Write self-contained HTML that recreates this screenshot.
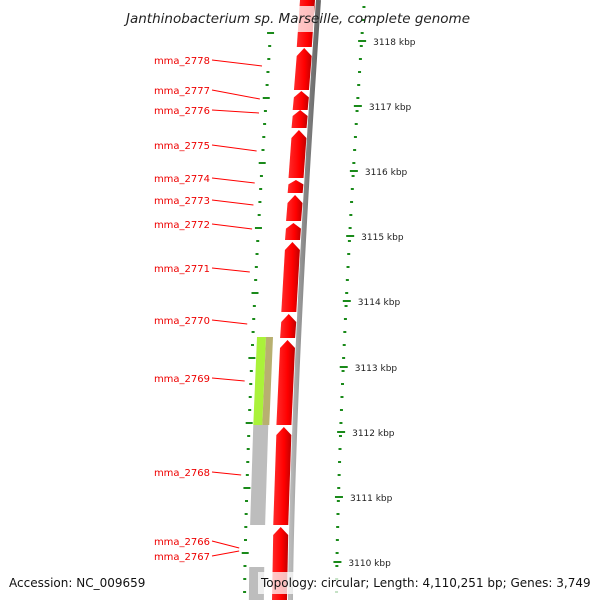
<!DOCTYPE html>
<html><head><meta charset="utf-8"><style>
html,body{margin:0;padding:0;background:#fff;}
svg{display:block;font-family:"DejaVu Sans","Liberation Sans",sans-serif;}
</style></head><body>
<svg id="map" width="600" height="600" viewBox="0 0 600 600">
<defs>
<linearGradient id="rg" x1="0" x2="1"><stop offset="0" stop-color="#ff2a2a"/><stop offset="0.6" stop-color="#ff0000"/><stop offset="1" stop-color="#c00000"/></linearGradient>
<linearGradient id="gg" x1="0" x2="1"><stop offset="0" stop-color="#bbb"/><stop offset="0.5" stop-color="#888"/><stop offset="1" stop-color="#666"/></linearGradient>
</defs>
<g id="ticks"></g>
<g id="blocks"></g>
<g id="genes"></g>
<g id="labels"></g>
<rect x="204" y="6" width="110" height="26" fill="#fff" opacity="0.75"/>
<text x="298" y="23" text-anchor="middle" font-size="13.5" font-style="italic" fill="#222">Janthinobacterium sp. Marseille, complete genome</text>
<text x="9" y="587" font-size="12" fill="#111">Accession: NC_009659</text>
<rect x="258" y="572" width="334" height="22" fill="#fff" opacity="0.75"/>
<text x="261" y="587" font-size="12" fill="#111">Topology: circular; Length: 4,110,251 bp; Genes: 3,749</text>
</svg>
<script>
var geneStarts=[0,48,91,110,130,180,195,223,242,314,340,427,527];
var geneEnds=[47,90,110,128,178,193,221,240,312,338,425,525,600];
var geneArrow=[0,1,1,1,1,1,1,1,1,1,1,1,1];
var labelNames=["mma_2778","mma_2777","mma_2776","mma_2775","mma_2774","mma_2773","mma_2772","mma_2771","mma_2770","mma_2769","mma_2768","mma_2766","mma_2767"];
var labelY=[60,90,110,145,178,200,224,268,320,378,472,541,556];
var labelTargetY=[66,99,113,151,183,205,229,272,324,381,475,548,551];
var kbpLabels=["3118 kbp","3117 kbp","3116 kbp","3115 kbp","3114 kbp","3113 kbp","3112 kbp","3111 kbp","3110 kbp"];
var kbpY=[42,107,172,237,302,368,433,498,563];
var blockStarts=[337,425,567];
var blockEnds=[425,525,600];
var blockType=["green","gray","gray"];
var NS="http://www.w3.org/2000/svg";
function curve(y){return 28*(1-Math.pow(1-Math.min(y,600)/600,1.5));}
function el(t,a,p){var e=document.createElementNS(NS,t);for(var k in a)e.setAttribute(k,a[k]);p.appendChild(e);return e;}
var G=document.getElementById('genes'),L=document.getElementById('labels'),T=document.getElementById('ticks'),B=document.getElementById('blocks');
// backbone gray line
var d="";for(var y=0;y<=600;y+=10){d+=(y?"L":"M")+(318-curve(y)+0.5)+" "+y;}
var bb=el('path',{d:d,stroke:'url(#gg)','stroke-width':5,fill:'none'},G);


// genes
for(var i=0;i<geneStarts.length;i++){
 var y0=geneStarts[i],y1=geneEnds[i];
 var xl0=300-curve(y0),xl1=300-curve(y1),w=15,ah=geneArrow[i]?Math.min(8,(y1-y0)/3):0;
 var pd="M"+xl1+" "+y1+" L"+xl0+" "+(y0+ah)+" L"+(xl0+w/2)+" "+y0+" L"+(xl0+w)+" "+(y0+ah)+" L"+(xl1+w)+" "+y1+" Z";
 var g=el('path',{d:pd,fill:'url(#rg)'},G);
 
 
}
// blast blocks
for(var j=0;j<blockStarts.length;j++){
 var a=blockStarts[j],b=blockEnds[j],xa=257-curve(a)+curve(337),xb=257-curve(b)+curve(337);
 if(blockType[j]=="green"){
  var p1=el('path',{d:"M"+xa+" "+a+"L"+(xa+9)+" "+a+"L"+(xb+9)+" "+b+"L"+xb+" "+b+"Z",fill:'#aaf23a'},B);
  
  
  var p2=el('path',{d:"M"+(xa+9)+" "+a+"L"+(xa+16)+" "+a+"L"+(xb+16)+" "+b+"L"+(xb+9)+" "+b+"Z",fill:'#b8b070'},B);
  
  
 } else {
  var p3=el('path',{d:"M"+xa+" "+a+"L"+(xa+15)+" "+a+"L"+(xb+15)+" "+b+"L"+xb+" "+b+"Z",fill:'#bdbdbd'},B);
  
  
 }
}
// dotted tick columns
for(var yy=8;yy<600;yy+=13){
 var major=((yy-8)%65)<1;
 var lx=272-curve(yy+20), rx=364-curve(yy);
 var t1=el('rect',{x:lx-(major?3:1),y:yy+24,width:major?7:3,height:2,fill:'#1a8a1a'},T);
 
 
 var t2=el('rect',{x:rx-1,y:yy-2,width:3,height:2,fill:'#1a8a1a'},T);
 
 
}
for(var k=0;k<kbpLabels.length;k++){
 var ky=kbpY[k],kx=364-curve(ky);
 var mt=el('rect',{x:kx-3,y:ky-2,width:8,height:2,fill:'#1a8a1a'},T);
 
 
 var kt=el('text',{x:kx+12,y:ky+3,'font-size':9,fill:'#222'},T);
 kt.textContent=kbpLabels[k];
 
 
}
// gene labels
for(var m=0;m<labelNames.length;m++){
 var ly=labelY[m],ty=labelTargetY[m],tx=262-curve(ty)+curve(66);
 var ln=el('line',{x1:212,y1:ly,x2:tx,y2:ty,stroke:'#ff0000','stroke-width':1},L);
 
 
 var tt=el('text',{x:210,y:ly+4,'text-anchor':'end','font-size':10,fill:'#ee0000'},L);
 tt.textContent=labelNames[m];
 
 
}
</script>
</body></html>
